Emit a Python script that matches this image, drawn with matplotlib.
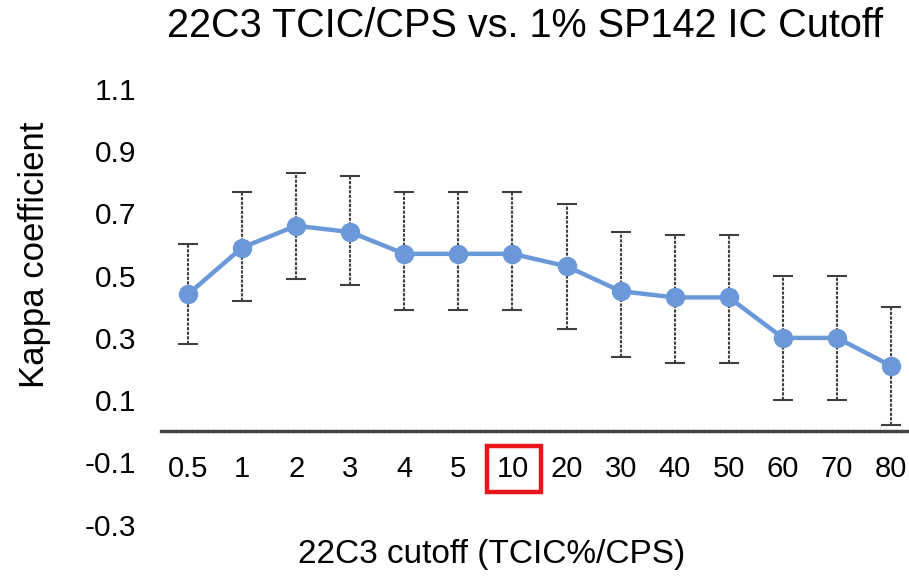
import matplotlib.pyplot as plt
from matplotlib.patches import Rectangle

plt.rcParams['font.family'] = ['Liberation Sans', 'DejaVu Sans']

# cutoffs on the x axis (categorical)
cutoffs = ['0.5', '1', '2', '3', '4', '5', '10', '20', '30', '40', '50', '60', '70', '80']
# kappa values and the 95% CI ends
kappa = [0.44, 0.59, 0.66, 0.64, 0.57, 0.57, 0.57, 0.53, 0.45, 0.43, 0.43, 0.30, 0.30, 0.21]
upper = [0.60, 0.77, 0.83, 0.82, 0.77, 0.77, 0.77, 0.73, 0.64, 0.63, 0.63, 0.50, 0.50, 0.40]
lower = [0.28, 0.42, 0.49, 0.47, 0.39, 0.39, 0.39, 0.33, 0.24, 0.22, 0.22, 0.10, 0.10, 0.02]
yticks = [-0.3, -0.1, 0.1, 0.3, 0.5, 0.7, 0.9, 1.1]

fig = plt.figure(figsize=(9.09, 5.81), dpi=100)
ax = fig.add_axes([0.177, 0.070, 0.823, 0.804])

x = list(range(len(cutoffs)))
err = [[k - l for k, l in zip(kappa, lower)], [u - k for k, u in zip(kappa, upper)]]

# error bars first, then the blue line on top
eb = ax.errorbar(x, kappa, yerr=err, fmt='none', ecolor='#3f3f3f', elinewidth=1.5,
                 capsize=7.5, capthick=1.5, zorder=2)
eb[2][0].set_linestyle((0, (1.5, 0.7)))
ax.plot(x, kappa, color='#6b98d9', lw=3.2, marker='o', ms=13, zorder=3)

ax.set_xlim(-0.5, 13.33)
ax.set_ylim(-0.35, 1.15)

for s in ['top', 'right', 'left']:
    ax.spines[s].set_visible(False)
ax.spines['bottom'].set_position(('data', 0))
ax.spines['bottom'].set_color('#444444')
ax.spines['bottom'].set_linewidth(2.4)
ax.spines['bottom'].set_linestyle((0, (1, 0.6)))

ax.set_xticks(x)
ax.set_xticklabels(cutoffs)
ax.set_yticks(yticks)
ax.set_yticklabels(['%.1f' % v for v in yticks])
ax.tick_params(axis='x', length=0, pad=17, labelsize=21)
ax.tick_params(axis='y', length=0, pad=18, labelsize=21.5)

# red box around the 10 label
ax.add_patch(Rectangle((5.53, -0.194), 1.0, 0.146, fill=False, edgecolor='#e8161b',
                       lw=3.2, transform=ax.transData, clip_on=False, zorder=5))

fig.text(0.578, 0.955, '22C3 TCIC/CPS vs. 1% SP142 IC Cutoff', ha='center', va='center',
         fontsize=28.5)
fig.text(0.541, 0.045, '22C3 cutoff (TCIC%/CPS)', ha='center', va='center', fontsize=24)
fig.text(0.038, 0.561, 'Kappa coefficient', rotation=90, va='center', ha='center', fontsize=25)

plt.savefig('out.png', dpi=100)
